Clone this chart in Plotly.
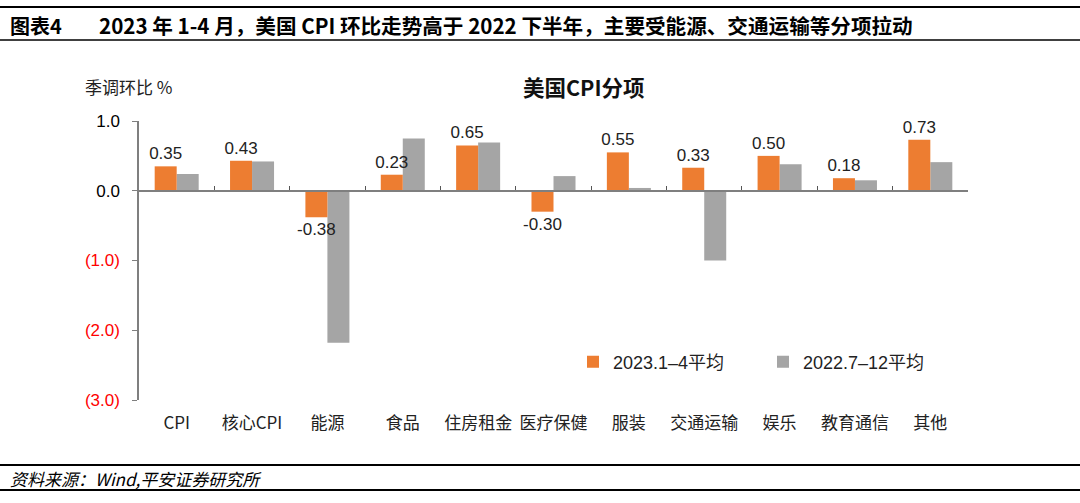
import plotly.graph_objects as go

categories = ["CPI", "核心CPI", "能源", "食品", "住房租金", "医疗保健", "服装", "交通运输", "娱乐", "教育通信", "其他"]
avg_2023_1_4 = [0.35, 0.43, -0.38, 0.23, 0.65, -0.30, 0.55, 0.33, 0.50, 0.18, 0.73]
avg_2022_7_12 = [0.24, 0.42, -2.18, 0.75, 0.69, 0.21, 0.04, -1.00, 0.38, 0.15, 0.41]
series_names = ["2023.1–4平均", "2022.7–12平均"]
ytick_vals = [1.0, 0.0, -1.0, -2.0, -3.0]
ytick_text = ["1.0", "0.0", "(1.0)", "(2.0)", "(3.0)"]

FONT = "Liberation Sans, Arial, Noto Sans CJK SC, sans-serif"
CJK = "Noto Sans CJK SC, Liberation Sans, sans-serif"
ORANGE = "#ED7D31"
GRAY = "#A5A5A5"

W, H = 1080, 503
L, R, T, B = 139, 112, 121, 103
PW, PH = W - L - R, H - T - B
BAR_W = 0.292


def px(x):
    return (x - L) / PW


def py(y):
    return (H - B - y) / PH


ticktext_col = []
for v, t in zip(ytick_vals, ytick_text):
    if v < 0:
        ticktext_col.append(f'<span style="color:#FF0000">{t}</span>')
    else:
        ticktext_col.append(t)

fig = go.Figure()
# gray first so the orange bars and their labels are drawn on top
fig.add_trace(go.Bar(
    x=categories, y=avg_2022_7_12, name=series_names[1],
    marker=dict(color=GRAY, line=dict(width=0)),
    width=BAR_W, offset=0, legendrank=2,
))
fig.add_trace(go.Bar(
    x=categories, y=avg_2023_1_4, name=series_names[0],
    marker=dict(color=ORANGE, line=dict(width=0)),
    width=BAR_W, offset=-BAR_W, legendrank=1,
    texttemplate="%{y:.2f}", textposition="outside", constraintext="none",
    cliponaxis=False, textfont=dict(family=FONT, size=17, color="#222222"),
))
# helper trace for the zero-line axis with boundary ticks
fig.add_trace(go.Scatter(x=categories, y=[None] * len(categories), xaxis="x2",
                         showlegend=False, hoverinfo="skip"))

zero_pos = (0 - (-3)) / 4
xrange = [-0.5, len(categories) - 0.5]

fig.update_layout(
    width=W, height=H,
    margin=dict(l=L, r=R, t=T, b=B),
    paper_bgcolor="white", plot_bgcolor="white",
    barmode="overlay",
    font=dict(family=FONT, size=15, color="#222222"),
    xaxis=dict(categoryorder="array", categoryarray=categories, range=xrange,
               showline=False, showgrid=False, ticks="", zeroline=False,
               tickfont=dict(family=CJK, size=17, color="#222222"),
               ticklabelstandoff=11),
    xaxis2=dict(matches="x", overlaying="x", anchor="free", position=zero_pos,
                side="bottom", showline=True, linecolor="#7F7F7F", linewidth=1.5,
                ticks="inside", tickson="boundaries", ticklen=4, tickcolor="#555555",
                tickwidth=1, showticklabels=False, showgrid=False, zeroline=False),
    yaxis=dict(range=[-3, 1], tickvals=ytick_vals, ticktext=ticktext_col,
               showline=True, linecolor="#7F7F7F", linewidth=1.5,
               ticks="outside", ticklen=5, tickcolor="#7F7F7F",
               showgrid=False, zeroline=False,
               tickfont=dict(family=FONT, size=17, color="#000000"),
               ticklabelstandoff=9),
    legend=dict(orientation="h", x=px(573), y=py(362), xanchor="left", yanchor="middle",
                font=dict(family=FONT, size=18, color="#222222"),
                bgcolor="rgba(0,0,0,0)", entrywidth=145, traceorder="normal"),
    showlegend=True,
)

shapes = [
    dict(type="line", xref="paper", yref="paper", x0=px(0), x1=px(W), y0=py(7), y1=py(7),
         line=dict(color="#000000", width=2)),
    dict(type="line", xref="paper", yref="paper", x0=px(0), x1=px(W), y0=py(40), y1=py(40),
         line=dict(color="#000000", width=1.5)),
    dict(type="line", xref="paper", yref="paper", x0=px(0), x1=px(W), y0=py(465), y1=py(465),
         line=dict(color="#000000", width=2)),
    dict(type="line", xref="paper", yref="paper", x0=px(0), x1=px(W), y0=py(490), y1=py(490),
         line=dict(color="#000000", width=2)),
]
fig.update_layout(shapes=shapes)

annotations = [
    dict(text="<b>图表4</b>", x=px(8), y=py(25), xref="paper", yref="paper",
         xanchor="left", yanchor="middle", showarrow=False,
         font=dict(family=CJK, size=20, color="#000000")),
    dict(text="<b>2023 年 1-4 月，美国 CPI 环比走势高于 2022 下半年，主要受能源、交通运输等分项拉动</b>",
         x=px(97), y=py(25), xref="paper", yref="paper",
         xanchor="left", yanchor="middle", showarrow=False,
         font=dict(family=CJK, size=20.6, color="#000000")),
    dict(text="<b>美国CPI分项</b>", x=px(584), y=py(86), xref="paper", yref="paper",
         xanchor="center", yanchor="middle", showarrow=False,
         font=dict(family=CJK, size=21.5, color="#111111")),
    dict(text="季调环比 %", x=px(83), y=py(87), xref="paper", yref="paper",
         xanchor="left", yanchor="middle", showarrow=False,
         font=dict(family=CJK, size=17, color="#222222")),
    dict(text="<i>资料来源：Wind,平安证券研究所</i>", x=px(8), y=py(478), xref="paper", yref="paper",
         xanchor="left", yanchor="middle", showarrow=False,
         font=dict(family=CJK, size=17, color="#000000")),
]
fig.update_layout(annotations=annotations)

fig.write_html("out.html", config={"displayModeBar": False},
               post_script="document.body.style.margin='0';document.body.style.overflow='hidden';")
